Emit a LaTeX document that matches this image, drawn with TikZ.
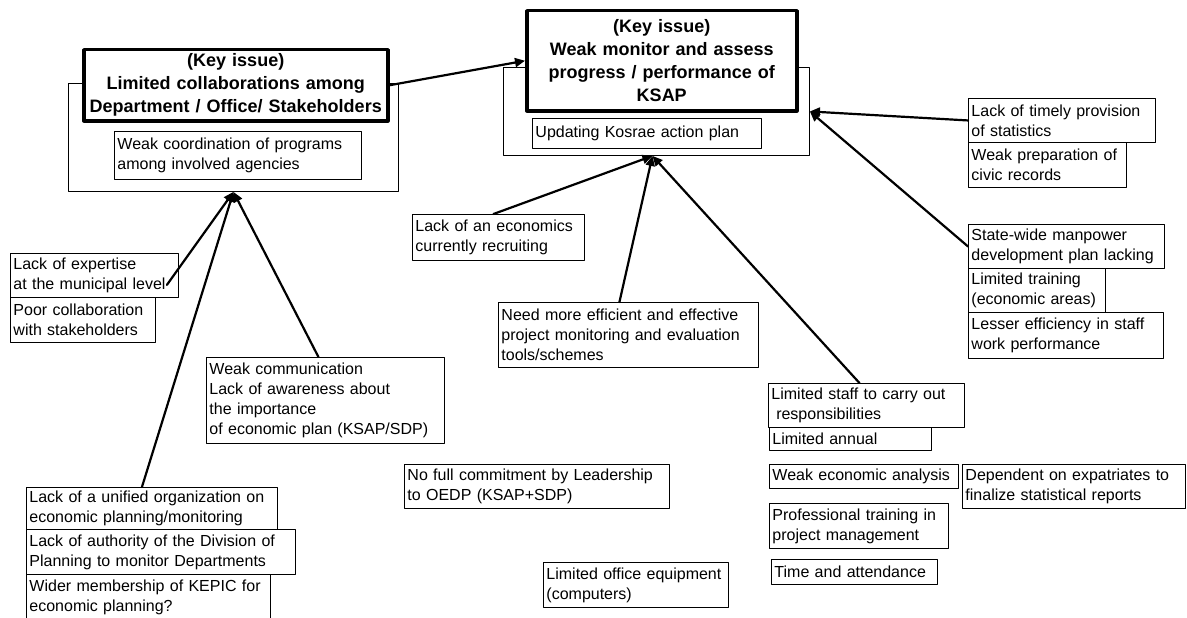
\documentclass[tikz,border=0pt]{standalone}
\usepackage{fontspec}
\setmainfont{Liberation Sans}
\usetikzlibrary{arrows.meta}
\newcommand{\causefont}{\fontsize{16}{20}\selectfont}
\newcommand{\keyfont}{\fontsize{18}{23}\selectfont\bfseries}
\begin{document}
\begin{tikzpicture}[line cap=round,line join=round,>={Triangle[length=10pt,width=9pt]},x=1pt,y=-1pt,
		cause/.style={draw,line width=0.9pt,fill=white,anchor=north west,align=left,inner xsep=3pt,inner ysep=1pt,font=\causefont},
		keybox/.style={draw,line width=3.5pt,fill=white,anchor=north west,align=center,inner sep=2pt,font=\keyfont},
		grpbox/.style={draw,line width=0.9pt,fill=white,anchor=north west,inner sep=0pt},
		conn/.style={->,line width=2.2pt}]
		\useasboundingbox (0,0) rectangle (1187,618);
		
		% key issues
		\node[grpbox,minimum width=330pt,minimum height=108pt] (leftgrp) at (68,83) {};
		\node[keybox,text width=300pt,minimum height=71pt] (leftkey) at (82,48) {(Key issue)\\Limited collaborations among\\Department / Office/ Stakeholders};
		\node[cause,text width=241pt,minimum height=48pt] (coordn) at (114,131) {Weak coordination of programs\\among involved agencies};
		
		\node[grpbox,minimum width=306pt,minimum height=88pt] (rightgrp) at (503,67) {};
		\node[keybox,text width=266pt,minimum height=100pt] (rightkey) at (525,9) {(Key issue)\\Weak monitor and assess\\progress / performance of\\KSAP};
		\node[cause,text width=223pt,minimum height=30pt] (updating) at (532,118) {Updating Kosrae action plan};
		
		\draw[conn] (leftkey.east) -- (rightkey.west);
		
		% causes, right
		\node[cause,text width=181pt,minimum height=44pt] (timely) at (968,98) {Lack of timely provision\\of statistics};
		\node[cause,text width=152pt,minimum height=45pt] (civic) at (968,142) {Weak preparation of\\civic records};
		\node[cause,text width=190pt,minimum height=44pt] (statewide) at (968,224) {State-wide manpower\\development plan lacking};
		\node[cause,text width=131pt,minimum height=44pt] (training) at (968,268) {Limited training\\(economic areas)};
		\node[cause,text width=189pt,minimum height=46pt] (lesser) at (968,312) {Lesser efficiency in staff\\work performance};
		
		% causes, left
		\node[cause,text width=162pt,minimum height=44pt] (expertise) at (10,253) {Lack of expertise\\at the municipal level};
		\node[cause,text width=139pt,minimum height=45pt] (poorcollab) at (10,297) {Poor collaboration\\with stakeholders};
		\node[cause,text width=232pt,minimum height=86pt] (comm) at (206,357) {Weak communication\\Lack of awareness about\\the importance\\of economic plan (KSAP/SDP)};
		\node[cause,text width=245pt,minimum height=42pt] (unified) at (26,487) {Lack of a unified organization on\\economic planning/monitoring};
		\node[cause,text width=263pt,minimum height=45pt] (authority) at (26,529) {Lack of authority of the Division of\\Planning to monitor Departments};
		\node[cause,text width=238pt,minimum height=46pt] (kepic) at (26,574) {Wider membership of KEPIC for\\economic planning?};
		
		% causes, middle
		\node[cause,text width=166pt,minimum height=46pt] (economics) at (412,214) {Lack of an economics\\currently recruiting};
		\node[cause,text width=254pt,minimum height=65pt] (efficient) at (498,302) {Need more efficient and effective\\project monitoring and evaluation\\tools/schemes};
		\node[cause,text width=259pt,minimum height=44pt] (commit) at (404,464) {No full commitment by Leadership\\to OEDP (KSAP+SDP)};
		\node[cause,text width=179pt,minimum height=45pt] (equip) at (543,562) {Limited office equipment\\(computers)};
		\node[cause,text width=190pt,minimum height=44pt] (staff) at (768,383) {Limited staff to carry out\\\hspace*{0.3em}responsibilities};
		\node[cause,text width=156pt,minimum height=23pt] (annual) at (769,427) {Limited annual};
		\node[cause,text width=183pt,minimum height=24pt] (analysis) at (769,464) {Weak economic analysis};
		\node[cause,text width=217pt,minimum height=44pt] (expat) at (962,464) {Dependent on expatriates to\\finalize statistical reports};
		\node[cause,text width=173pt,minimum height=45pt] (proftrain) at (769,503) {Professional training in\\project management};
		\node[cause,text width=160pt,minimum height=25pt] (attend) at (771,559) {Time and attendance};
		
		% connectors
		\draw[conn] ([shift={(-12,-13)}]expertise.south east) -- (leftgrp.south);
		\draw[conn] ([xshift=-7pt]comm.north) -- (leftgrp.south);
		\draw[conn] ([xshift=-10pt]unified.north) -- (leftgrp.south);
		
		\draw[conn] ([xshift=-5pt]economics.north) -- ([xshift=-4pt]rightgrp.south);
		\draw[conn] ([xshift=-9pt]efficient.north) -- ([xshift=-4pt]rightgrp.south);
		\draw[conn] ([xshift=-7pt]staff.north) -- ([xshift=-4pt]rightgrp.south);
		
		\draw[conn] (timely.west) -- (rightgrp.east);
		\draw[conn] (statewide.west) -- (rightgrp.east);
	\end{tikzpicture}
\end{document}
